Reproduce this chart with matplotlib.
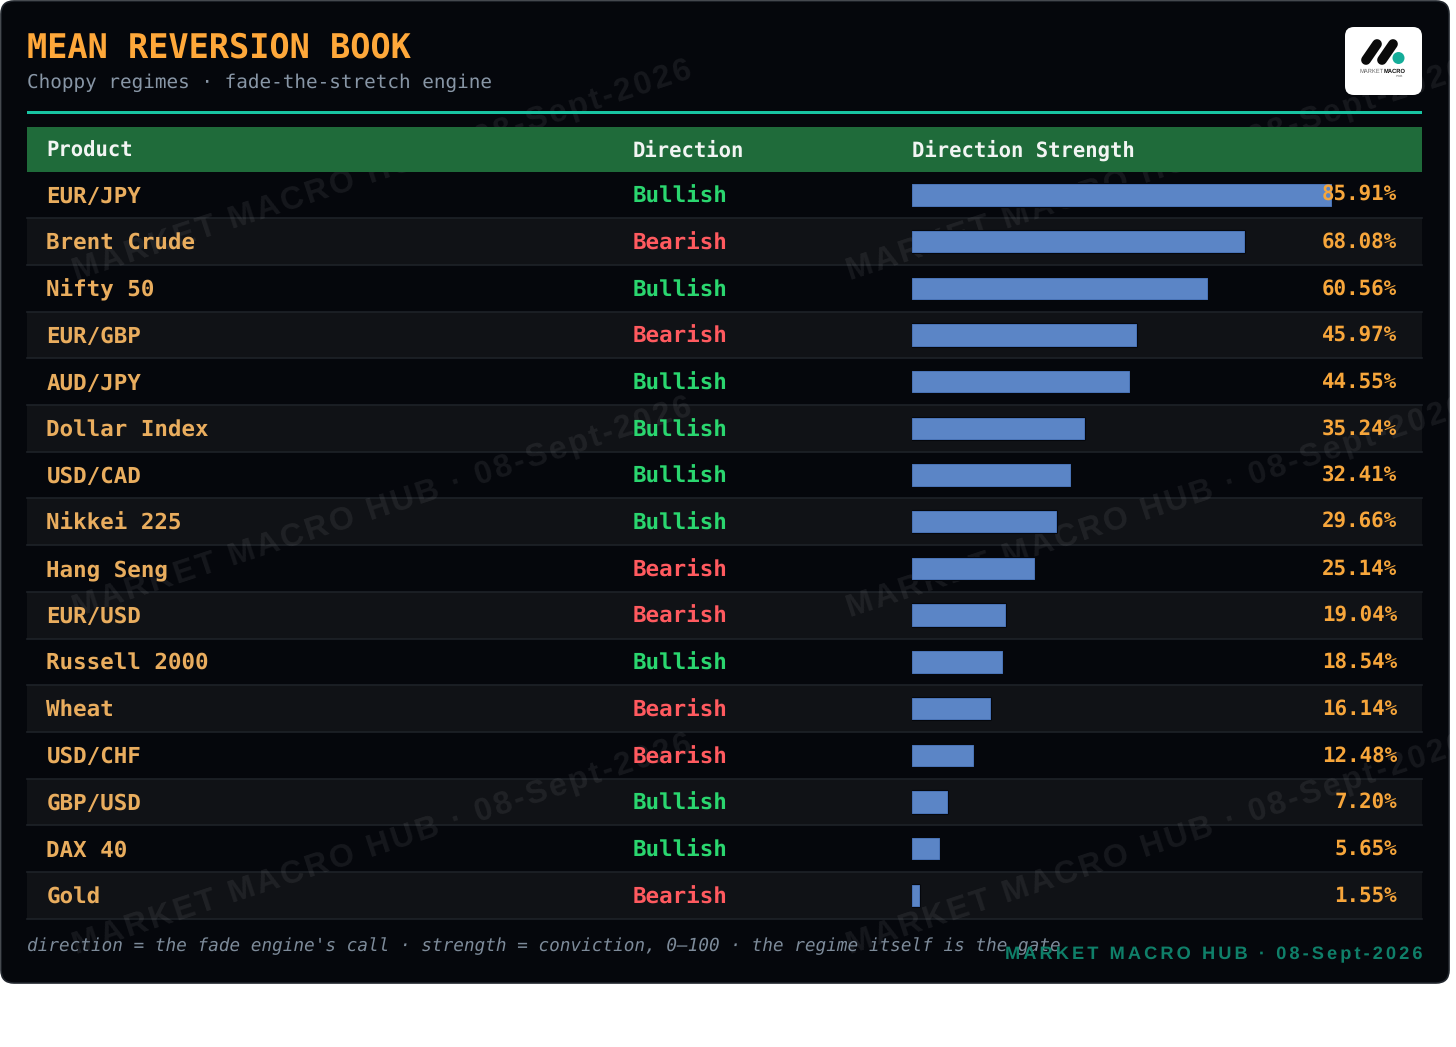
import matplotlib
matplotlib.use("Agg")
import matplotlib.pyplot as plt
import matplotlib.patheffects as pe
from matplotlib.patches import FancyBboxPatch, Rectangle, Circle
from matplotlib.transforms import blended_transform_factory

plt.rcParams["text.hinting"] = "no_hinting"
plt.rcParams["text.hinting_factor"] = 16

products = ["EUR/JPY", "Brent Crude", "Nifty 50", "EUR/GBP", "AUD/JPY", "Dollar Index",
            "USD/CAD", "Nikkei 225", "Hang Seng", "EUR/USD", "Russell 2000", "Wheat",
            "USD/CHF", "GBP/USD", "DAX 40", "Gold"]
directions = ["Bullish", "Bearish", "Bullish", "Bearish", "Bullish", "Bullish",
              "Bullish", "Bullish", "Bearish", "Bearish", "Bullish", "Bearish",
              "Bearish", "Bullish", "Bullish", "Bearish"]
strength = [85.91, 68.08, 60.56, 45.97, 44.55, 35.24, 32.41, 29.66,
            25.14, 19.04, 18.54, 16.14, 12.48, 7.20, 5.65, 1.55]
headers = ["Product", "Direction", "Direction Strength"]

W, H = 1456, 1047
MONO = "DejaVu Sans Mono"
SANS = ["Liberation Sans", "DejaVu Sans"]
HAIR = "\u200a"
wm_label = HAIR.join("MARKET MACRO HUB · 08-Sept-2026")
foot_label = (HAIR * 2).join("MARKET MACRO HUB · 08-Sept-2026")

fig = plt.figure(figsize=(W / 100, H / 100), dpi=100, facecolor="white")

# page axes works in pixels, y going down
bg = fig.add_axes([0, 0, 1, 1])
bg.set_xlim(0, W)
bg.set_ylim(H, 0)
bg.axis("off")

card = FancyBboxPatch((1, 1), W - 8, 982, boxstyle="round,pad=0,rounding_size=13",
                      fc="#05070c", ec="#20252c", lw=1.2, zorder=1)
bg.add_patch(card)

# table rows share one y scale, strength bars use the x scale 0-100
left, right = 27, 1422
x0, px_per_unit = 911.6, 4.885
row_top, pitch = 171.5, 46.7
n = len(products)
ax = fig.add_axes([x0 / W, 1 - (row_top + pitch * n) / H, 100 * px_per_unit / W, pitch * n / H])
ax.set_xlim(0, 100)
ax.set_ylim(n - 0.5, -0.5)
ax.axis("off")
ax.patch.set_alpha(0)
ax.set_zorder(2)
row_tf = blended_transform_factory(bg.transData, ax.transData)

for i in range(n):
    if i % 2 == 1:
        bg.add_patch(Rectangle((left, row_top + i * pitch), right - left, pitch,
                               fc="#101216", ec="none", zorder=2))
    yl = row_top + (i + 1) * pitch
    bg.plot([left, right], [yl, yl], color="#1e2228", lw=1.2, zorder=2.2)

# watermark grid sits under the header
for wx in [76, 850]:
    for wy in [280, 617, 954]:
        t = bg.text(wx, wy, wm_label, rotation=18.2, rotation_mode="anchor", ha="left", va="baseline",
                    fontsize=23, fontweight="bold", color="white", alpha=0.07,
                    family=SANS, zorder=2.5, clip_on=True)
        t.set_clip_path(card)

bg.add_patch(Rectangle((left, 127), right - left, 44.5, fc="#1f6b3a", ec="none", zorder=3))
bg.add_patch(Rectangle((left, 111), right - left, 3, fc="#18c4a2", ec="none", zorder=3))

bg.text(27, 48, "MEAN REVERSION BOOK", fontsize=24.16, fontweight="bold", color="#ffa83a",
        family=MONO, va="center", zorder=4)
bg.text(27, 82.5, "Choppy regimes · fade-the-stretch engine", fontsize=13.93, color="#8896a6",
        family=MONO, va="center", zorder=4)

for label, hx in zip(headers, [46.5, 633, 912]):
    bg.text(hx, 156.5, label, fontsize=14.82, fontweight="bold", color="#f2f5f3",
            family=MONO, va="baseline", zorder=4)

bars = ax.barh(range(n), strength, height=0.46, color="#5b85c6", edgecolor="#4f7cc6", linewidth=0.6)
for b in bars:
    b.set_joinstyle("round")
    b.set_path_effects([pe.withStroke(linewidth=2.2, foreground="#05070c")])

# baseline anchored so descenders do not shift the row text
for i in range(n):
    ax.text(46.5, i + 0.17, products[i], transform=row_tf, fontsize=16.2, fontweight="bold",
            color="#e9ad5e", family=MONO, va="baseline")
    col = "#2ad66f" if directions[i] == "Bullish" else "#ff5a5f"
    ax.text(633, i + 0.17, directions[i], transform=row_tf, fontsize=16.2, fontweight="bold",
            color=col, family=MONO, va="baseline")
    ax.text(1397, i + 0.13, f"{strength[i]:.2f}%", transform=row_tf, fontsize=15, fontweight="bold",
            color="#f7a63b", family=MONO, va="baseline", ha="right")

bg.text(27, 946, "direction = the fade engine's call · strength = conviction, 0–100 · the regime itself is the gate",
        fontsize=12.72, style="italic", color="#7d8b9a", family=MONO, va="center", zorder=4)
bg.text(1422.5, 955, foot_label, fontsize=13.15, fontweight="bold", color="#0f7f69",
        family=SANS, va="center", ha="right", zorder=4)

# logo tile
bg.add_patch(FancyBboxPatch((1345, 27), 77, 68, boxstyle="round,pad=0,rounding_size=9",
                            fc="white", ec="none", zorder=4))
bg.plot([1366, 1377], [60, 44], color="#0a0a0a", lw=7, solid_capstyle="round", zorder=5)
bg.plot([1382, 1393], [60, 44], color="#0a0a0a", lw=7, solid_capstyle="round", zorder=5)
bg.add_patch(Circle((1398.5, 58), 6, fc="#14ad99", ec="none", zorder=5))
bg.text(1383.5, 71, "MARKET", fontsize=4.2, color="#666666", ha="right", va="center",
        family="Liberation Sans", zorder=5)
bg.text(1383.5, 71, "MACRO", fontsize=4.2, fontweight="bold", color="#111111", ha="left", va="center",
        family="Liberation Sans", zorder=5)
bg.text(1399, 76, "HUB", fontsize=2.5, color="#666666", ha="center", va="center",
        family="Liberation Sans", zorder=5)

fig.savefig("out.png", dpi=100, facecolor="white")
